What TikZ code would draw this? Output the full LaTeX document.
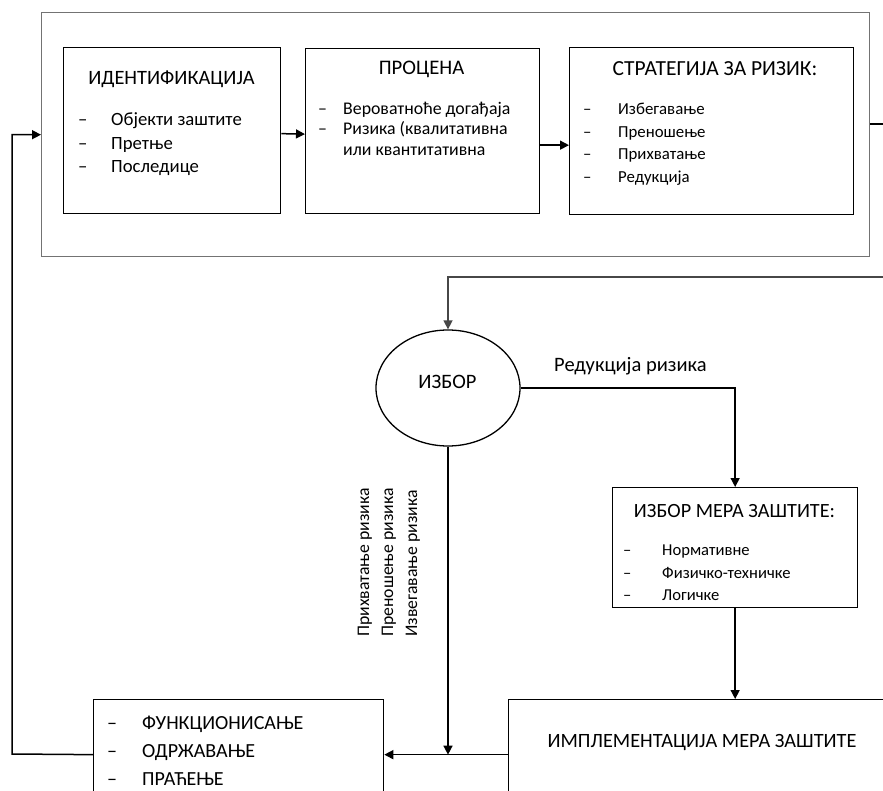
\documentclass[tikz,border=0pt]{standalone}
\usepackage{fontspec}
\setmainfont{Carlito}
\usetikzlibrary{arrows.meta,shapes.geometric}

\tikzset{
  sz/.style={font=\fontsize{#1}{#1}\selectfont},
  frame/.style={draw=black!55, line width=1.4pt, anchor=north west, inner sep=0pt},
  stage/.style={draw=black, line width=1.3pt, anchor=north west, inner sep=0pt},
  choicebox/.style={draw=black, line width=1.3pt, ellipse, inner sep=0pt,
    minimum width=144pt, minimum height=116pt},
  link/.style={draw=black, line width=1.5pt},
  flow/.style={link, -{Triangle[length=9pt,width=9pt]}},
  txt/.style={inner sep=0pt, anchor=base west},
  head/.style={inner sep=0pt, anchor=base},
}

% one list entry: name, dash x, text x, baseline y, font size, text
\newcommand\riskitem[6]{%
  \node[txt,sz=#5] (#1-dash) at (#2,#4) {–};
  \node[txt,sz=#5] (#1) at (#3,#4) {#6};}

\begin{document}
\begin{tikzpicture}[x=1pt,y=-1pt]
  \clip (0,0) rectangle (883,791);

  % risk analysis frame with its three stages
  \node[frame, minimum width=828pt, minimum height=244pt] (analysis) at (41,12) {};
  \node[stage, minimum width=217pt, minimum height=166pt] (ident) at (63,47) {};
  \node[stage, minimum width=234pt, minimum height=165pt] (assess) at (305,48) {};
  \node[stage, minimum width=284pt, minimum height=167pt] (strat) at (569,47) {};

  \node[head, sz=20.4] (identT) at (171.5,85) {ИДЕНТИФИКАЦИЈА};
  \riskitem{i1}{78}{111}{126}{18.7}{Објекти заштите}
  \riskitem{i2}{78}{111}{150}{18.7}{Претње}
  \riskitem{i3}{78}{111}{173}{18.7}{Последице}

  \node[head, sz=20.7] (assessT) at (421.5,75) {ПРОЦЕНА};
  \riskitem{a1}{318}{343}{115}{17.8}{Вероватноће догађаја}
  \riskitem{a2}{318}{343}{135}{17.8}{Ризика (квалитативна}
  \node[txt,sz=17.8] (a3) at (343,156) {или квантитативна};

  \node[head, sz=21.5] (stratT) at (715,76) {СТРАТЕГИЈА ЗА РИЗИК:};
  \riskitem{s1}{583}{618}{115}{16.8}{Избегавање}
  \riskitem{s2}{583}{618}{138}{16.8}{Преношење}
  \riskitem{s3}{583}{618}{160}{16.8}{Прихватање}
  \riskitem{s4}{583}{618}{183}{16.8}{Редукција}

  % choice and measures
  \node[choicebox] (choice) at (448,388) {};
  \node[head, sz=20.5] (choiceT) at (447.5,388) {ИЗБОР};

  \node[stage, minimum width=245pt, minimum height=120pt] (measures) at (612,487) {};
  \node[head, sz=20.2] (measuresT) at (734.5,517) {ИЗБОР МЕРА ЗАШТИТЕ:};
  \riskitem{m1}{623}{662}{555}{16.6}{Нормативне}
  \riskitem{m2}{623}{662}{578}{16.6}{Физичко-техничке}
  \riskitem{m3}{623}{662}{600}{16.6}{Логичке}

  \node[stage, minimum width=500pt, minimum height=110pt] (impl) at (508,699) {};
  \node[head, sz=20.3] (implT) at (702,747) {ИМПЛЕМЕНТАЦИЈА МЕРА ЗАШТИТЕ};

  \node[stage, minimum width=290pt, minimum height=110pt] (ops) at (93,699) {};
  \riskitem{o1}{107}{142}{729}{20}{ФУНКЦИОНИСАЊЕ}
  \riskitem{o2}{107}{142}{757}{20}{ОДРЖАВАЊЕ}
  \riskitem{o3}{107}{142}{785}{20}{ПРАЋЕЊЕ}

  % branch labels
  \node[txt, sz=20.5] (reduceL) at (554,371) {Редукција ризика};
  \node[txt, sz=17.7, rotate=90] (acceptL) at (369,637) {Прихватање ризика};
  \node[txt, sz=17.7, rotate=90] (transferL) at (393,637) {Преношење ризика};
  \node[txt, sz=17.7, rotate=90] (avoidL) at (417,637) {Извегавање ризика};

  % connectors
  \draw[flow] ([yshift=-3pt]ident.east) -- ([yshift=-3pt]assess.west);
  \draw[flow] ([yshift=-14pt]assess.east) -- ([yshift=-14pt]assess.east -| strat.west);

  \coordinate (stratOut) at (883,124);
  \draw[link] (analysis.east |- stratOut) -- (stratOut);

  \coordinate (feedIn) at (883,277);
  \draw[flow, draw=black!72] (feedIn) -| (choice.north);

  \draw[flow] (choice.east) -| (measures.north);
  \draw[flow] (measures.south) -- (measures.south |- impl.north);
  \draw[flow] (choice.south) -- (choice.south |- ops.east);
  \draw[flow] (impl.west) -- (ops.east);

  \coordinate (loopCorner) at (12,754);
  \draw[flow] (ops.west) -- (loopCorner) |- (analysis.west);
\end{tikzpicture}
\end{document}
